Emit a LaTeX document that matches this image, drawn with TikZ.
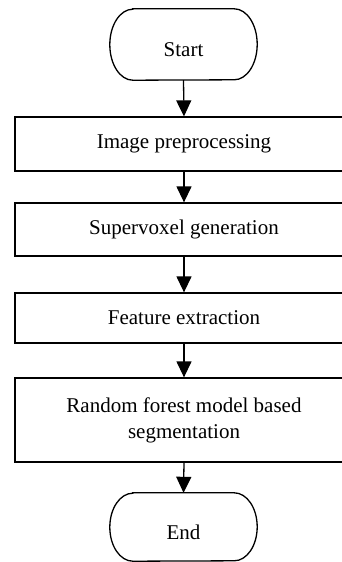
\documentclass[tikz,border=0pt]{standalone}
\usepackage{fontspec}
\setmainfont{Liberation Serif}
\usetikzlibrary{arrows.meta}

\begin{document}
\begin{tikzpicture}[x=1pt, y=-1pt,
  every node/.style={font=\fontsize{21}{26}\selectfont, align=center, inner sep=0pt},
  procbox/.style={draw, line width=1.3pt, minimum width=338pt},
  termtext/.style={minimum width=147pt},
  flow/.style={line width=1.3pt, -{Triangle[width=15pt, length=16pt]}},
  outline/.style={line width=1.3pt}]
  \useasboundingbox (0,0) rectangle (342,562);
  \clip (0,0) rectangle (342,562);

  % process steps
  \node[procbox, minimum height=54pt] (prep) at (184,144) {Image preprocessing};
  \node[procbox, minimum height=53pt] (svox) at (184,229.5) {Supervoxel generation};
  \node[procbox, minimum height=50pt] (feat) at (184,318) {Feature extraction};
  \node[procbox, minimum height=84pt] (rf)   at (184,420) {Random forest model based\\segmentation};

  % start / end terminals: flat sides closed by elliptic ends
  \node[termtext, minimum height=71pt] (st) at (183.5,44.5) {};
  \node[termtext, minimum height=68pt] (en) at (183.5,527) {};
  \node at ([yshift=-5pt]st.center) {Start};
  \node at ([yshift=-5pt]en.center) {End};
  \draw[outline] ([xshift=23pt]st.north west) -- ([xshift=-23pt]st.north east)
    arc[start angle=90, end angle=-90, x radius=23pt, y radius=35.5pt]
    -- ([xshift=23pt]st.south west)
    arc[start angle=270, end angle=90, x radius=23pt, y radius=35.5pt] -- cycle;
  \draw[outline] ([xshift=23pt]en.north west) -- ([xshift=-23pt]en.north east)
    arc[start angle=90, end angle=-90, x radius=23pt, y radius=34pt]
    -- ([xshift=23pt]en.south west)
    arc[start angle=270, end angle=90, x radius=23pt, y radius=34pt] -- cycle;

  % connectors
  \draw[flow] (st.south) -- (prep.north);
  \draw[flow] (prep.south) -- (svox.north);
  \draw[flow] (svox.south) -- (feat.north);
  \draw[flow] (feat.south) -- (rf.north);
  \draw[flow] (rf.south) -- (en.north);
\end{tikzpicture}
\end{document}
